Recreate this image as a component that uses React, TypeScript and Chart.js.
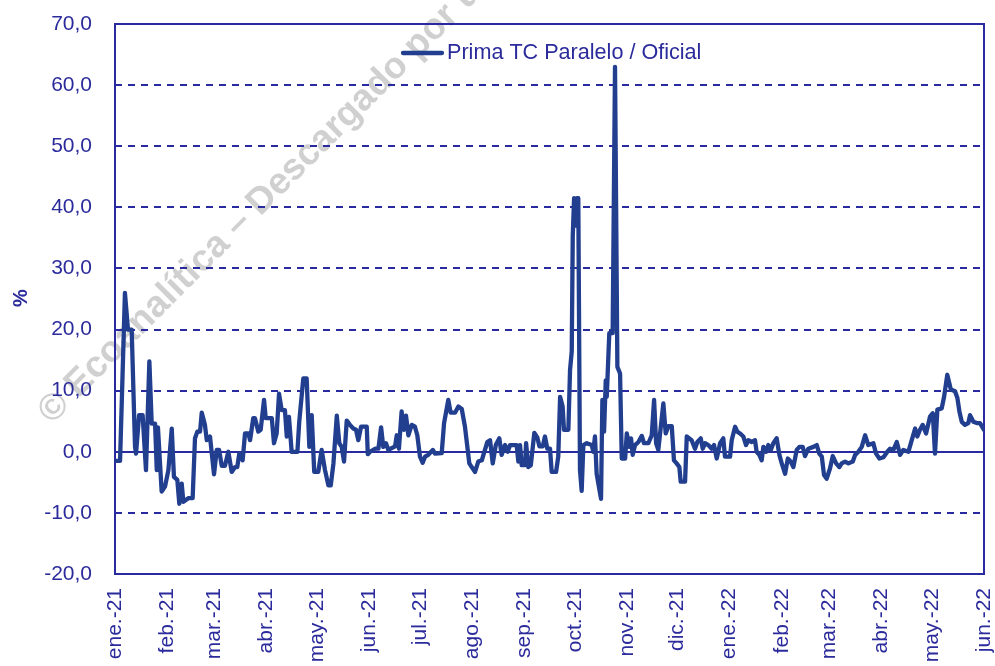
import React, { useEffect, useRef } from 'react';
import { Chart, registerables } from 'chart.js';

Chart.register(...registerables);

// ---- Data ----
const monthLabels = [
  'ene.-21', 'feb.-21', 'mar.-21', 'abr.-21', 'may.-21', 'jun.-21', 'jul.-21', 'ago.-21', 'sep.-21',
  'oct.-21', 'nov.-21', 'dic.-21', 'ene.-22', 'feb.-22', 'mar.-22', 'abr.-22', 'may.-22', 'jun.-22',
];
// days elapsed since 1 Jan 2021 at the start of each month
const monthStartDays = [0, 31, 59, 90, 120, 151, 181, 212, 243, 273, 304, 334, 365, 396, 424, 455, 485, 516];

const yTickValues = [-20, -10, 0, 10, 20, 30, 40, 50, 60, 70];

const seriesLabel = 'Prima TC Paralelo / Oficial';

// observation day (days since 1 Jan 2021)
const obsDays = [
  0, 3.0, 5.9, 7.7, 9.9, 11.9, 12.5, 14.3, 16.4, 18.4, 20.4, 21.8, 23.8, 24.8, 25.5, 27.7, 29.7, 31.7, 33.7, 35.0,
  37.0, 38.2, 39.6, 40.6, 43.5, 46.1, 47.5, 48.9, 50.5, 51.5, 53.4, 54.5, 56.4, 58.8, 60.4, 61.8, 63.4, 65.3, 67.3, 69.3,
  71.3, 72.6, 73.8, 75.8, 77.2, 79.2, 80.2, 82.1, 83.1, 85.1, 86.5, 88.5, 89.5, 93.1, 94.4, 96.0, 97.4, 99.0, 100.9, 102.0,
  103.3, 104.9, 108.3, 109.4, 111.8, 113.8, 115.4, 116.8, 118.3, 120.7, 122.7, 124.7, 126.7, 128.1, 129.7, 131.7, 133.2, 134.6, 136.0, 137.6,
  139.5, 141.5, 143.1, 144.5, 146.1, 149.5, 150.1, 151.4, 154.4, 156.4, 158.0, 159.3, 160.9, 162.3, 166.3, 167.3, 168.6, 170.2, 171.6, 172.8,
  174.2, 176.2, 178.1, 179.5, 181.1, 182.7, 184.1, 186.0, 188.7, 190.0, 194.0, 195.4, 197.9, 199.3, 201.9, 203.9, 205.9, 207.8, 210.4, 211.8,
  213.8, 215.7, 217.8, 219.3, 221.1, 222.7, 224.3, 226.1, 228.2, 229.6, 231.6, 233.2, 234.6, 238.5, 239.5, 240.5, 241.5, 243.5, 244.1, 245.4,
  246.9, 249.0, 250.8, 252.0, 254.0, 255.3, 256.7, 258.3, 259.3, 261.9, 263.2, 264.3, 265.8, 266.6, 269.2, 270.2, 271.2, 271.8, 272.6, 273.6,
  274.3, 275.1, 276.1, 277.1, 278.1, 280.1, 283.1, 284.0, 285.0, 286.0, 288.6, 289.4, 290.4, 291.4, 292.0, 293.5, 295.5, 296.9, 298.3, 299.9,
  300.9, 302.9, 303.9, 305.4, 306.4, 307.4, 308.8, 310.8, 312.8, 314.1, 316.7, 318.7, 320.1, 321.3, 322.6, 325.6, 327.0, 328.6, 330.6, 331.9,
  333.5, 335.1, 335.9, 338.5, 339.5, 342.4, 344.4, 345.8, 347.8, 349.0, 350.4, 352.3, 354.3, 355.7, 357.3, 359.3, 361.2, 362.2, 365.2, 366.2,
  368.2, 369.5, 371.1, 373.1, 374.7, 376.1, 378.1, 380.0, 381.0, 382.6, 384.0, 385.0, 386.6, 387.9, 389.4, 390.9, 392.9, 394.5, 395.9, 397.9,
  399.5, 401.2, 402.8, 404.8, 406.4, 408.4, 409.7, 411.7, 414.7, 416.7, 418.2, 419.7, 421.0, 422.6, 424.6, 426.2, 428.2, 430.1, 431.5, 433.5,
  435.5, 438.1, 439.5, 441.4, 443.4, 445.4, 447.3, 450.3, 451.9, 453.9, 456.3, 458.6, 460.2, 462.2, 464.2, 466.2, 468.1, 471.1, 473.1, 475.1,
  476.4, 478.0, 479.6, 481.6, 484.0, 485.6, 486.9, 488.3, 490.9, 492.3, 494.2, 496.3, 498.8, 500.2, 501.4, 502.8, 504.7, 506.7, 507.7, 509.7,
  511.7, 513.6, 516.0,
];

// premium parallel vs official rate, %
const premiumPct = [
  -1.5, -1.5, 26, 20, 20, 0.8, -0.3, 6, 6, -3, 14.8, 4.6, 4.6, -3, 4, -6.5, -5.7, -3, 3.8, -4.1,
  -4.6, -8.5, -5.2, -8.2, -7.6, -7.6, 2.2, 3.3, 3.3, 6.4, 4.4, 1.9, 2.5, -3.7, 0.3, 0.3, -2.3, -2.3, 0, -3.3,
  -2.5, -2.5, -0.3, -1.4, 3, 3, 1.9, 5.5, 5.5, 3.3, 3.6, 8.5, 5.5, 5.5, 1.4, 3, 9.5, 6.8, 6.8, 2.5,
  5.7, 0, 0, 4.9, 12, 12, 0.8, 6, -3.3, -3.3, 0.3, -3, -5.5, -5.5, -1.9, 5.9, 1.4, 0.8, -1.6, 5.1,
  4.4, 3.8, 3.6, 1.9, 4.1, 4.1, -0.4, 0, 0.5, 0.5, 4, 0.8, 1.4, 0.3, 0.9, 2.7, 0.5, 6.6, 3.6, 5.9,
  2.7, 4.4, 4.1, 2.7, -0.8, -1.8, -0.8, -0.5, 0.3, -0.3, -0.2, 4.7, 8.5, 6.4, 6.4, 7.4, 7, 4.1, -1.9, -2.5,
  -3.3, -1.6, -1.4, 0, 1.6, 1.9, -1.9, 1.1, 2.2, -0.5, 1.1, 0, 1.1, 1.1, -1.6, 1.1, -2.2, -2.2, 1.4, -2.5,
  -2.2, 3.1, 2.3, 0.9, 0.9, 2.5, 0.5, 0.5, -3.3, -3.3, -0.8, 9, 7.4, 3.6, 3.6, 13.4, 16.4, 35.2, 41.5, 37,
  41.5, 41.5, -3, -6.4, 1.1, 1.4, 1.1, 0, 2.5, -3.6, -7.7, 8.5, 3.3, 11.7, 9, 19.4, 19.4, 63, 13.9, 12.8,
  -1.1, -1.1, 3, 0.8, 2.2, -0.5, 1.1, 1.6, 2.6, 1.4, 1.4, 2.7, 8.5, 1.4, 0.3, 7.9, 3, 4.2, 4.2, -1.4,
  -1.9, -2.5, -4.9, -4.9, 2.5, 1.9, 0.5, 1.6, 2.2, 0.5, 1.4, 1.1, 0.5, 1.1, -1.1, 1.4, 2.2, -0.8, -0.8, 1.9,
  4.1, 3.3, 3, 2.5, 1.1, 1.9, 1.6, 1.9, 0, -0.5, -1.4, 0.8, 0, 1.1, 0.3, 1.4, 2.2, -0.5, -1.9, -3.6,
  -1.1, -1.6, -2.5, 0.3, 0.8, 0.8, -0.7, 0.5, 0.8, 1.1, -0.3, -0.8, -3.8, -4.4, -2.7, -0.7, -1.9, -2.5, -1.9, -1.6,
  -1.9, -1.6, -0.5, 0, 0.8, 2.7, 1.1, 1.4, -0.3, -1.1, -0.9, 0, 0.5, 0.3, 1.6, -0.5, 0.3, 0, 1.9, 3.8,
  2.5, 3.6, 4.4, 3, 5.8, 6.3, -0.3, 6.9, 7.1, 9, 12.6, 10.2, 9.9, 8.8, 6.6, 4.9, 4.4, 4.7, 6, 4.9,
  4.7, 4.7, 3.6,
];

// ---- Styles ----
const TEXT_COLOR = '#2B2B9C';
const GRID_COLOR = '#2A2AA0';
const LINE_COLOR = '#213E8F';
const FONT_FAMILY = "'Liberation Sans', Arial, sans-serif";

const fmt = (v: number) => v.toFixed(1).replace('.', ',');

const zeroScalePadding = (scale: any) => {
  scale.paddingTop = 0;
  scale.paddingBottom = 0;
  scale.paddingLeft = 0;
  scale.paddingRight = 0;
};

const decorPlugin = {
  id: 'decor',
  beforeDraw(chart: any) {
    const ctx = chart.ctx;
    ctx.save();
    ctx.translate(52, 425);
    ctx.rotate(-Math.PI / 4);
    ctx.font = `bold 37px ${FONT_FAMILY}`;
    ctx.fillStyle = 'rgba(190,190,190,0.72)';
    ctx.textBaseline = 'alphabetic';
    ctx.textAlign = 'left';
    ctx.fillText('© Ecoanalítica – Descargado por usuario', 0, 0);
    ctx.restore();
  },
  beforeDatasetsDraw(chart: any) {
    const ctx = chart.ctx;
    const { left, right, top, bottom } = chart.chartArea;
    const y = chart.scales.y;
    ctx.save();
    ctx.strokeStyle = GRID_COLOR;
    ctx.lineWidth = 2;
    ctx.setLineDash([7, 6]);
    yTickValues.forEach((v) => {
      if (v === 0 || v === yTickValues[0] || v === yTickValues[yTickValues.length - 1]) return;
      const py = Math.round(y.getPixelForValue(v));
      ctx.beginPath();
      ctx.moveTo(left, py);
      ctx.lineTo(right, py);
      ctx.stroke();
    });
    ctx.setLineDash([]);
    const p0 = Math.round(y.getPixelForValue(0));
    ctx.beginPath();
    ctx.moveTo(left, p0);
    ctx.lineTo(right, p0);
    ctx.stroke();
    ctx.strokeRect(left, top, right - left, bottom - top);
    ctx.restore();
  },
  afterDatasetsDraw(chart: any) {
    const ctx = chart.ctx;
    ctx.save();
    // legend
    ctx.strokeStyle = LINE_COLOR;
    ctx.lineWidth = 4.3;
    ctx.lineCap = 'round';
    ctx.beginPath();
    ctx.moveTo(403, 53);
    ctx.lineTo(442, 53);
    ctx.stroke();
    ctx.fillStyle = TEXT_COLOR;
    ctx.font = `21.6px ${FONT_FAMILY}`;
    ctx.textBaseline = 'middle';
    ctx.textAlign = 'left';
    ctx.fillText(seriesLabel, 447, 53);
    // axis title
    ctx.translate(21, 298);
    ctx.rotate(-Math.PI / 2);
    ctx.font = `bold 20px ${FONT_FAMILY}`;
    ctx.textAlign = 'center';
    ctx.fillText('%', 0, 0);
    ctx.restore();
  },
};

export default function App() {
  const canvasRef = useRef<HTMLCanvasElement | null>(null);

  useEffect(() => {
    const canvas = canvasRef.current;
    if (!canvas) return;
    const chart = new Chart(canvas, {
      type: 'line',
      data: {
        datasets: [
          {
            label: seriesLabel,
            data: obsDays.map((d, i) => ({ x: d, y: premiumPct[i] })),
            borderColor: LINE_COLOR,
            borderWidth: 4.3,
            pointRadius: 0,
            tension: 0,
            borderJoinStyle: 'round',
            borderCapStyle: 'round',
          },
        ],
      },
      options: {
        responsive: false,
        animation: false,
        devicePixelRatio: 1,
        layout: { padding: { top: 24, right: 11, left: 0, bottom: 0 } },
        plugins: { legend: { display: false }, tooltip: { enabled: false } },
        scales: {
          x: {
            type: 'linear',
            min: monthStartDays[0],
            max: monthStartDays[monthStartDays.length - 1],
            afterBuildTicks: (scale: any) => {
              scale.ticks = monthStartDays.map((v) => ({ value: v }));
            },
            afterFit: (scale: any) => {
              scale.height = 92;
              zeroScalePadding(scale);
            },
            ticks: {
              autoSkip: false,
              minRotation: 90,
              maxRotation: 90,
              padding: 14,
              color: TEXT_COLOR,
              font: { family: FONT_FAMILY, size: 21 },
              callback: (v: any) => {
                const idx = monthStartDays.indexOf(Number(v));
                return idx >= 0 ? monthLabels[idx] : '';
              },
            },
            grid: { display: false, drawTicks: false },
            border: { display: false },
          },
          y: {
            min: yTickValues[0],
            max: yTickValues[yTickValues.length - 1],
            afterBuildTicks: (scale: any) => {
              scale.ticks = yTickValues.map((v) => ({ value: v }));
            },
            afterFit: (scale: any) => {
              scale.width = 115;
              zeroScalePadding(scale);
            },
            ticks: {
              padding: 23,
              color: TEXT_COLOR,
              font: { family: FONT_FAMILY, size: 21 },
              callback: (v: any) => fmt(Number(v)),
            },
            grid: { display: false, drawTicks: false },
            border: { display: false },
          },
        },
      },
      plugins: [decorPlugin],
    } as any);
    return () => chart.destroy();
  }, []);

  return (
    <div style={{ position: 'fixed', left: 0, top: 0, width: 995, height: 666, background: '#ffffff' }}>
      <canvas ref={canvasRef} width={995} height={666} style={{ width: 995, height: 666, display: 'block' }} />
    </div>
  );
}
